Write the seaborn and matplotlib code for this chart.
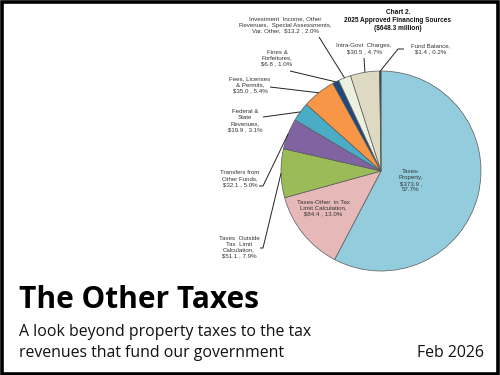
import matplotlib
matplotlib.use("Agg")
import matplotlib.pyplot as plt
import seaborn as sns
import numpy as np
from matplotlib.patches import Rectangle

# ---- data ----
label_templates = [
    "Taxes-\nProperty,\n${v} ,\n{p}%",
    "Taxes-Other  in Tax\nLimit Calculation,\n${v} , {p}%",
    "Taxes  Outside\nTax  Limit\nCalculation,\n${v} , {p}%",
    "Transfers from\nOther Funds,\n${v} , {p}%",
    "Federal &\nState\nRevenues,\n${v} , {p}%",
    "Fees, Licenses\n& Permits,\n${v} , {p}%",
    "Fines &\nForfeitures,\n${v} , {p}%",
    "Investment  Income, Other\nRevenues,  Special Assessments,\nVar. Other,  ${v} , {p}%",
    "Intra-Govt  Charges,\n${v} , {p}%",
    "Fund Balance,\n${v} , {p}%",
]
amounts = [373.9, 84.4, 51.1, 32.1, 19.9, 35.0, 6.8, 13.2, 30.5, 1.4]
percents = [57.7, 13.0, 7.9, 5.0, 3.1, 5.4, 1.0, 2.0, 4.7, 0.2]
colors = ["#93CDDD", "#E6B9B8", "#9BBB59", "#8064A2", "#4BACC6",
          "#F79646", "#1F497D", "#EBF1DE", "#DDD9C3", "#1F3A5F"]
chart_title = "Chart 2.\n2025 Approved Financing Sources\n($648.3 million)"
headline = "The Other Taxes"
subtitle = "A look beyond property taxes to the tax\nrevenues that fund our government"
date_text = "Feb 2026"

# ---- layout (pixel coordinates) ----
text_pos = [(411, 180.5), (323, 208), (239, 247), (240, 179), (245, 120.5),
            (250, 85), (277, 58), (285, 25), (364, 48.5), (431, 48.5)]
leader_start = [None, None,
                [(260, 248), (263, 248)],
                [(259, 186), (263, 186)],
                [(263, 117)],
                [(270, 87)],
                [(290, 71)],
                [(319, 37)],
                [(364, 58)],
                [(404, 49), (398, 49)]]

sns.set_theme(style="white")
plt.rcParams['font.family'] = ['Liberation Sans', 'DejaVu Sans']

fig = plt.figure(figsize=(5, 3.75), dpi=100)
ax = fig.add_axes([0, 0, 1, 1])
wedges, _ = ax.pie(amounts, colors=colors, startangle=-90, counterclock=True,
                   center=(381, 171), radius=100,
                   wedgeprops=dict(edgecolor="#595959", linewidth=0.5))
ax.set_xlim(0, 500)
ax.set_ylim(375, 0)
ax.set_aspect('equal')
ax.axis('off')

for i, w in enumerate(wedges):
    txt = label_templates[i].format(v=f"{amounts[i]:.1f}", p=f"{percents[i]:.1f}")
    ax.text(text_pos[i][0], text_pos[i][1], txt, ha='center', va='center',
            fontsize=4.4, color='#333333', linespacing=1.25,
            family=['Liberation Sans', 'DejaVu Sans'], zorder=5)
    if leader_start[i] is not None:
        th = np.deg2rad((w.theta1 + w.theta2) / 2)
        ex = w.center[0] + w.r * np.cos(th)
        ey = w.center[1] + w.r * np.sin(th)
        pts = leader_start[i] + [(ex, ey)]
        xs, ys = zip(*pts)
        ax.plot(xs, ys, color='#222222', linewidth=0.7, solid_capstyle='butt')

ax.text(398, 20.5, chart_title, ha='center', va='center', fontsize=4.7,
        fontweight='bold', color='#111111', linespacing=1.25,
        family=['Liberation Sans', 'DejaVu Sans'])

ax.text(19, 308, headline, ha='left', va='baseline', fontsize=21.5,
        fontweight='bold', color='#000000', family=['Open Sans', 'DejaVu Sans'])
ax.text(19, 357, subtitle, ha='left', va='baseline', fontsize=11.4,
        color='#111111', linespacing=1.45, family=['Open Sans', 'DejaVu Sans'])
ax.text(484, 357, date_text, ha='right', va='baseline', fontsize=11.4,
        color='#111111', family=['Open Sans', 'DejaVu Sans'])

fig.patches.append(Rectangle((0.003, 0.004), 0.993, 0.992, transform=fig.transFigure,
                             fill=False, edgecolor='black', linewidth=2.6))

fig.savefig("out.png", dpi=100, facecolor='white')
